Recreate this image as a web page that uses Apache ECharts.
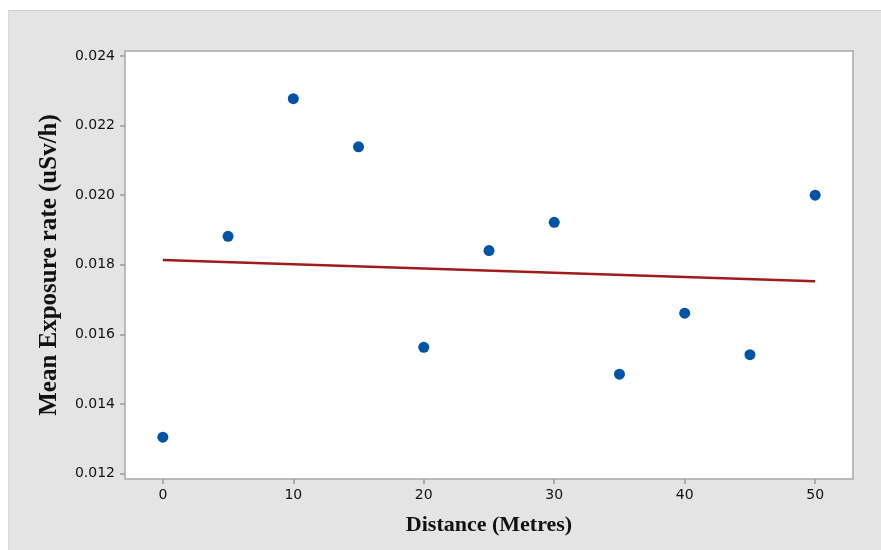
<!DOCTYPE html>
<html>
<head>
<meta charset="utf-8">
<script src="https://cdn.jsdelivr.net/npm/echarts@6/dist/echarts.min.js"></script>
<style>
    html, body {
        margin: 0;
        padding: 0;
        background: #ffffff;
    }
    .panel {
        position: absolute;
        left: 8px;
        top: 10px;
        width: 872px;
        height: 539px;
        background: #e4e4e4;
        border-top: 1px solid #d0d0d0;
        border-left: 1px solid #d8d8d8;
    }
    .scatter-chart {
        width: 100%;
        height: 100%;
    }
</style>
</head>
<body>
<div class="panel">
    <div class="scatter-chart" id="chart"></div>
</div>
<script>
// distance (metres) and measured mean exposure rate
const distances = [0, 5, 10, 15, 20, 25, 30, 35, 40, 45, 50];
const exposureRates = [0.01305, 0.01882, 0.02277, 0.02139, 0.01563, 0.01841, 0.01922, 0.01486, 0.01661, 0.01542, 0.02000];

// fitted line, start and end
const fitX = [0, 50];
const fitY = [0.01814, 0.01753];

const xTicks = [0, 10, 20, 30, 40, 50];
const yTicks = [0.012, 0.014, 0.016, 0.018, 0.020, 0.022, 0.024];

const chartDom = document.getElementById('chart');
const myChart = echarts.init(chartDom);

const points = distances.map((d, i) => [d, exposureRates[i]]);
const fitLine = fitX.map((d, i) => [d, fitY[i]]);

const option = {
    animation: false,
    backgroundColor: 'transparent',
    grid: {
        left: 116,
        top: 40,
        width: 728,
        height: 428,
        show: true,
        backgroundColor: '#ffffff',
        borderColor: '#a8a8a8',
        borderWidth: 1.5
    },
    xAxis: {
        type: 'value',
        min: -2.9,
        max: 52.9,
        name: 'Distance (Metres)',
        nameLocation: 'middle',
        nameGap: 35,
        nameTextStyle: {
            fontFamily: 'Liberation Serif',
            fontWeight: 'bold',
            fontSize: 22,
            color: '#111'
        },
        axisLine: { show: false, onZero: false },
        axisTick: {
            show: true,
            customValues: xTicks,
            length: 5,
            lineStyle: { color: '#999', width: 1.5 }
        },
        axisLabel: {
            customValues: xTicks,
            margin: 9,
            fontFamily: 'DejaVu Sans',
            fontSize: 14,
            color: '#111'
        },
        splitLine: { show: false }
    },
    yAxis: {
        type: 'value',
        min: 0.01185,
        max: 0.02414,
        name: 'Mean Exposure rate (uSv/h)',
        nameLocation: 'middle',
        nameGap: 63,
        nameTextStyle: {
            fontFamily: 'Liberation Serif',
            fontWeight: 'bold',
            fontSize: 25,
            color: '#111'
        },
        axisLine: { show: false, onZero: false },
        axisTick: {
            show: true,
            customValues: yTicks,
            length: 5,
            lineStyle: { color: '#999', width: 1.5 }
        },
        axisLabel: {
            customValues: yTicks,
            margin: 10,
            fontFamily: 'DejaVu Sans',
            fontSize: 14,
            color: '#111',
            formatter: v => v.toFixed(3)
        },
        splitLine: { show: false }
    },
    series: [{
        type: 'line',
        data: fitLine,
        symbol: 'none',
        lineStyle: {
            color: '#a01c1c',
            width: 2.5
        },
        z: 2
    },
    {
        type: 'scatter',
        data: points,
        symbolSize: 11,
        itemStyle: {
            color: '#0054a6',
            opacity: 1
        },
        z: 3
    }
    ]
};

myChart.setOption(option);
window.addEventListener('resize', () => {
    myChart.resize();
});
</script>
</body>
</html>
